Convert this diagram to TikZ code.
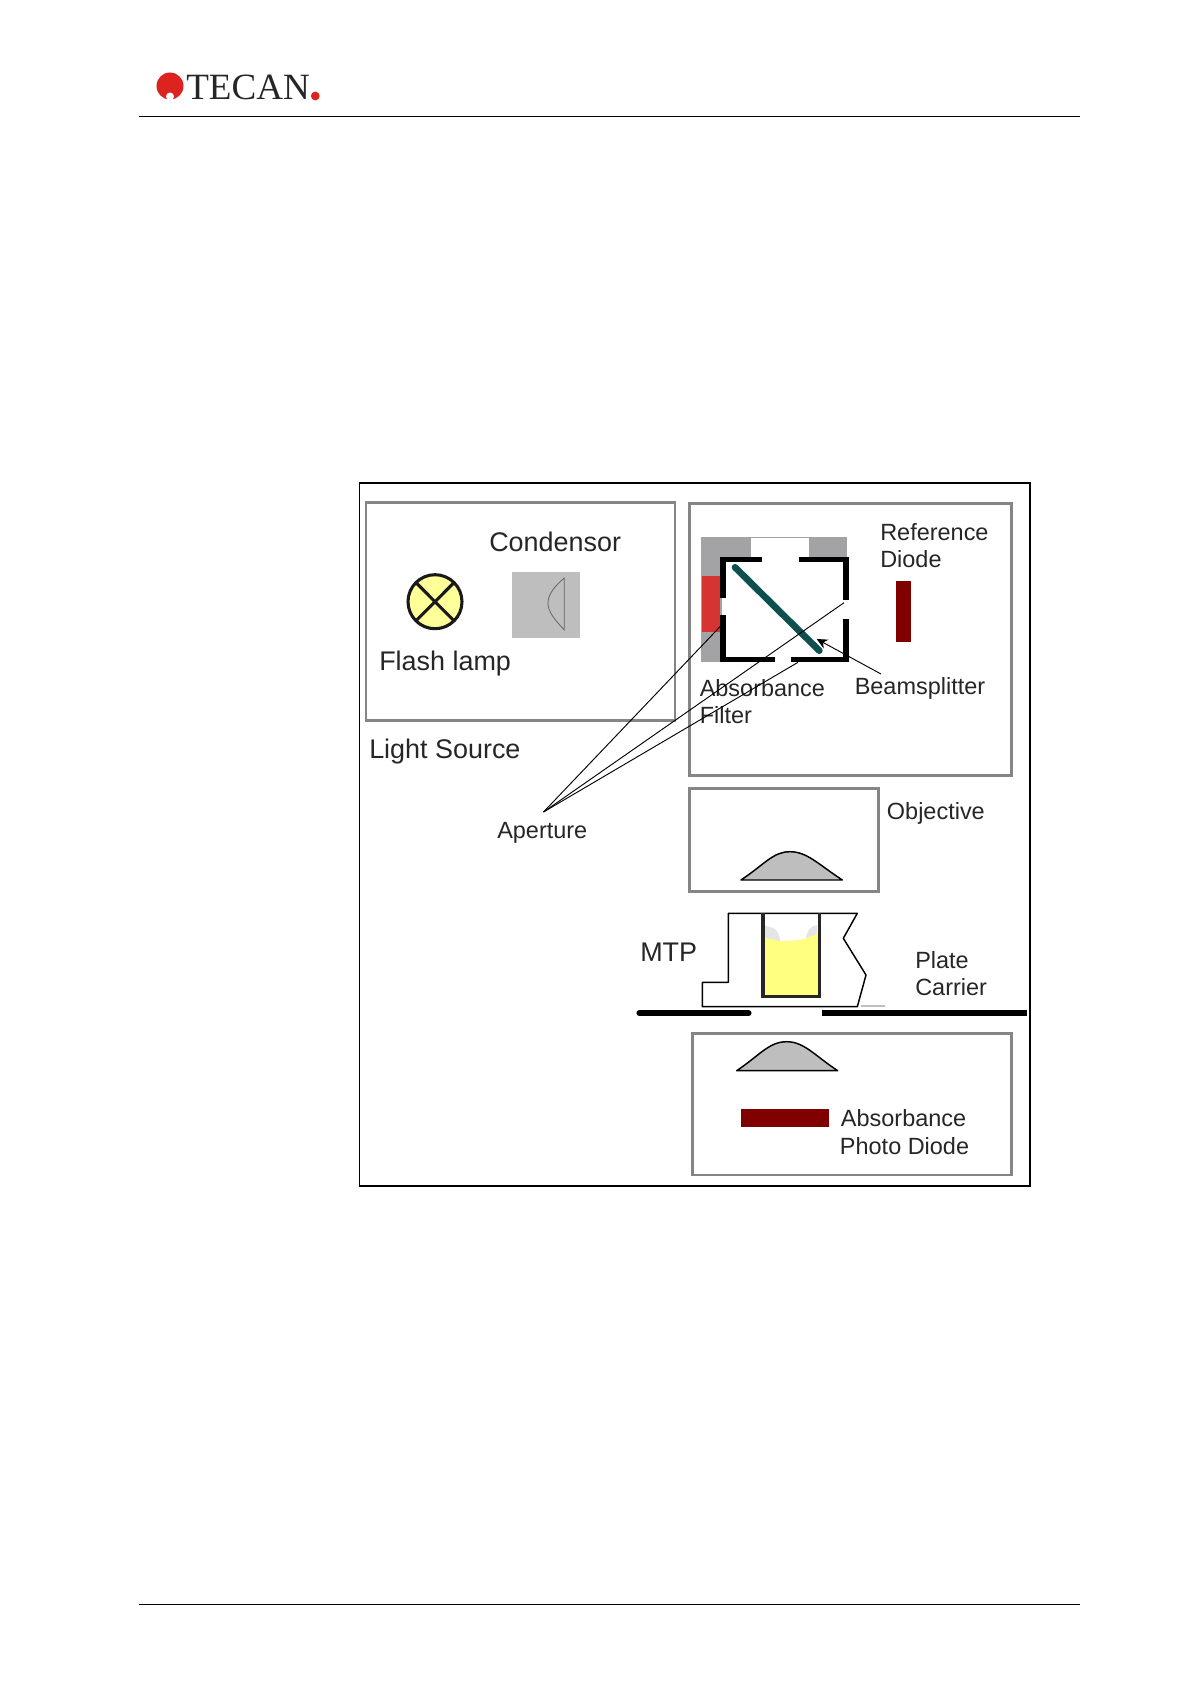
\documentclass[tikz,border=0pt]{standalone}
\usepackage{fontspec}
\setmainfont{Liberation Sans}
\newfontfamily\logofont{Liberation Serif}
\usetikzlibrary{arrows.meta}
\definecolor{boxgray}{HTML}{858585}
\definecolor{lensgray}{HTML}{BEBEBE}
\definecolor{mountgray}{HTML}{A3A3A6}
\definecolor{lampyellow}{HTML}{FFFF99}
\definecolor{wellyellow}{HTML}{FFFF80}
\definecolor{diodered}{HTML}{800000}
\definecolor{filterred}{HTML}{D63333}
\definecolor{splitter}{HTML}{0E5050}
\definecolor{logored}{HTML}{DD2320}
\definecolor{textdark}{HTML}{262626}
\tikzset{
  big/.style={anchor=base west,inner sep=0pt,text=textdark,font=\fontsize{20.2}{22}\selectfont},
  small/.style={anchor=base west,inner sep=0pt,text=textdark,font=\fontsize{17.6}{20}\selectfont},
  unitbox/.style={draw=boxgray,line width=2pt},
  framebar/.style={line width=4.2pt,black},
  rulebar/.style={line width=.7pt,black},
  leader/.style={line width=.7pt,black},
  lensbody/.style={fill=lensgray,draw=black,line width=1.1pt,line join=round},
  carrier/.style={line width=4.6pt,black},
  diode/.style={fill=diodered,draw=none}
}
\begin{document}
\begin{tikzpicture}[x=0.75pt,y=-0.75pt]
\useasboundingbox (0,0) rectangle (1191,1684);
\fill[white] (0,0) rectangle (1191,1684);
% header / footer
\coordinate (hl) at (139,116); \coordinate (hr) at (1080,116);
\coordinate (fl) at (139,1604.6); \coordinate (fr) at (1080,1604.6);
\draw[rulebar] (hl) -- (hr);
\draw[rulebar] (fl) -- (fr);
% logo
\fill[logored] (170,86) circle (13.5);
\fill[white] (170,96.5) circle (4);
\node[anchor=base west,inner sep=0pt,text=textdark,font=\logofont\fontsize{27.8}{30}\selectfont] (logo) at (186,99.3) {TECAN};
\fill[logored] (315.3,96) circle (4.4);
% outer frame
\draw[line width=1.3pt,black] (359.5,482.7) rectangle (1030,1185.7);
% unit boxes
\draw[unitbox] (366,502.7) rectangle (675,720.7);
\draw[unitbox] (689.3,503.3) rectangle (1011.7,775.7);
\draw[unitbox] (689.3,788.3) rectangle (878.3,891.7);
\draw[unitbox] (692.3,1033.3) rectangle (1011.7,1175);
% lamp
\draw[fill=lampyellow,draw=black!90,line width=2.3pt] (435,601.7) circle (27);
\draw[line width=2.3pt,black!90] (416,582.6) -- (454,620.8) (454,582.6) -- (416,620.8);
% condensor
\fill[lensgray] (512.3,571.7) rectangle (580,638.3);
\draw[line width=.6pt,black!60] (564.3,578) -- (564.3,630) .. controls (555,620) and (548,612) .. (548,603) .. controls (548,594) and (555,586) .. (564.3,578) -- cycle;
% mount (gray) and filter
\fill[mountgray] (700.7,536.7) rectangle (751,556.7);
\fill[mountgray] (808.7,536.7) rectangle (846.7,556.7);
\fill[mountgray] (700.7,536.7) rectangle (722,661.7);
\draw[line width=.6pt,mountgray] (751,536.9) -- (808.7,536.9);
\fill[filterred] (702,575.7) rectangle (720,631.7);
% black frame
\draw[framebar] (761.7,559.3) -- (722.7,559.3) -- (722.7,598.3);
\draw[framebar] (722.7,615) -- (722.7,659.3) -- (775,659.3);
\draw[framebar] (790.7,659.3) -- (845.7,659.3) -- (845.7,619.3);
\draw[framebar] (845.7,600) -- (845.7,559.3) -- (799.3,559.3);
% beamsplitter
\draw[line width=5pt,splitter,line cap=round] (735,567.3) -- (819.3,650.7);
% reference diode
\fill[diode] (895.7,581) rectangle (910.7,641.7);
% objective lens
\draw[lensbody] (741,880) .. controls (765,864) and (773,851.7) .. (790,851.7) .. controls (807,851.7) and (818,864) .. (842.3,880) -- cycle;
% MTP
\draw[line width=1.1pt,black,line join=round] (728.3,913.3) -- (857.3,913.3) -- (843.3,938.3) -- (866,975) -- (857.3,1006.7) -- (702.3,1006.7) -- (702.3,982.3) -- (728.3,982.3) -- cycle;
\draw[line width=.8pt,black!25] (861,1006) -- (885,1006);
% well
\fill[black!10] (764,926) .. controls (772,926) and (780,930) .. (780,941) -- (764,941) -- cycle;
\fill[black!10] (817,925) .. controls (811,926) and (807,930) .. (806,938) -- (817,936) -- cycle;
\fill[wellyellow] (764,937) .. controls (775,942) and (800,944) .. (818,933) -- (818,996) -- (764,996) -- cycle;
\draw[line width=2.4pt,black!85] (763,913.3) -- (763,996.7) -- (819.3,996.7) -- (819.3,913.3);
% carrier
\draw[carrier,line cap=round] (639.5,1013.3) -- (748.5,1013.3);
\draw[carrier] (821.7,1013.3) -- (1026.7,1013.3);
% lower lens and diode
\draw[lensbody] (736.7,1070.7) .. controls (760,1055) and (769,1041.7) .. (786.7,1041.7) .. controls (804,1041.7) and (814,1055) .. (837.7,1070.7) -- cycle;
\fill[diode] (740.7,1109.3) rectangle (829.3,1127.3);
% labels
\node[big] (condensor) at (489,551) {Condensor};
\node[big] (flash) at (379,670) {Flash lamp};
\node[big] (source) at (369,758) {Light Source};
\node[big] (mtp) at (640,961.7) {MTP};
\node[small] (refa) at (880,540) {Reference};
\node[small] (refb) at (880,567.3) {Diode};
\node[small] (absa) at (699.5,696.7) {Absorbance};
\node[small] (absb) at (699.5,723) {Filter};
\node[small] (beam) at (854.5,694.5) {Beamsplitter};
\node[small] (aper) at (497,838) {Aperture};
\node[small] (obj) at (886.7,819.3) {Objective};
\node[small] (pla) at (915,968.3) {Plate};
\node[small] (plb) at (915,995) {Carrier};
\node[small] (pha) at (840.7,1126.7) {Absorbance};
\node[small] (phb) at (839.7,1154) {Photo Diode};
% leaders
\coordinate (apex) at (543.5,812);
\coordinate (apA) at (720,626.7);
\coordinate (apB) at (844,602.7);
\coordinate (apC) at (798,662.3);
\coordinate (beamfoot) at (881,674);
\coordinate (beamtip) at (816.7,639);
\draw[leader] (apex) -- (apA);
\draw[leader] (apex) -- (apB);
\draw[leader] (apex) -- (apC);
\draw[leader,-{Stealth[length=8pt,width=7.5pt]}] (beamfoot) -- (beamtip);
\end{tikzpicture}
\end{document}
